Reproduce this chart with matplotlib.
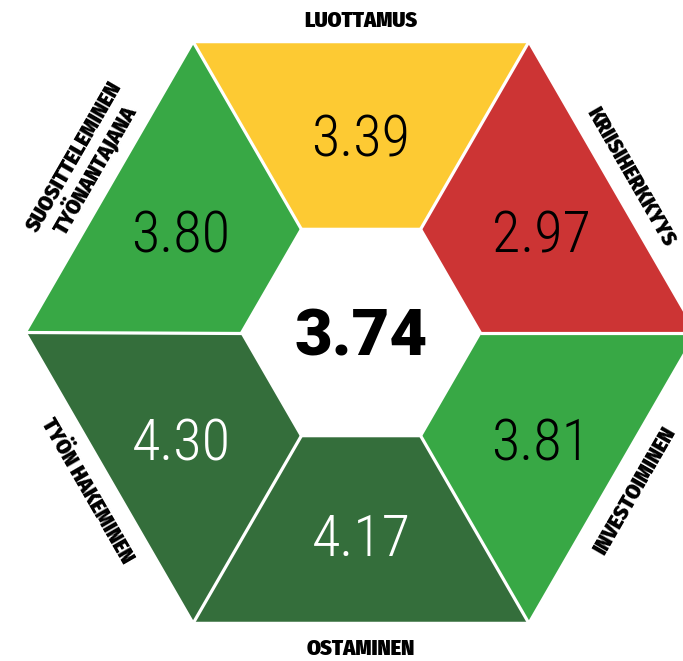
import numpy as np
import matplotlib
matplotlib.use('Agg')
import matplotlib.pyplot as plt
from matplotlib import font_manager
from matplotlib.patches import Polygon

labels = ['LUOTTAMUS', 'KRIISIHERKKYYS', 'INVESTOIMINEN', 'OSTAMINEN',
          'TYÖN HAKEMINEN', 'SUOSITTELEMINEN\nTYÖNANTAJANA']
values = [3.39, 2.97, 3.81, 4.17, 4.30, 3.80]
total = 3.74


def colour(v):
    if v < 3.0:
        return '#CC3434'
    if v < 3.5:
        return '#FDCA33'
    if v < 4.0:
        return '#38A845'
    return '#346E3B'


def has_font(name):
    return any(f.name == name for f in font_manager.fontManager.ttflist)


def pick(cands):
    for c in cands:
        if has_font(c):
            return c
    return 'DejaVu Sans'


num_font = pick(['Roboto Condensed', 'Liberation Sans Narrow', 'Roboto'])
lab_font = pick(['Fira Sans Condensed', 'Roboto Condensed', 'Roboto'])
big_font = pick(['Roboto', 'DejaVu Sans'])

# geometry in pixels
W, H = 683, 661
CX, CY = 361, 332.5
R_OUT, R_IN = 334, 121
mids = [90, 30, -30, -90, -150, 150]


def pt(r, a):
    a = np.radians(a)
    return CX + r * np.cos(a), CY - r * np.sin(a)


fig = plt.figure(figsize=(W / 100, H / 100), dpi=100)
ax = fig.add_axes([0, 0, 1, 1])
ax.set_xlim(0, W)
ax.set_ylim(H, 0)
ax.axis('off')

for lab, v, m in zip(labels, values, mids):
    a0, a1 = m - 30, m + 30
    poly = [pt(R_IN, a0), pt(R_OUT, a0), pt(R_OUT, a1), pt(R_IN, a1)]
    ax.add_patch(Polygon(poly, closed=True, facecolor=colour(v), edgecolor='none'))

    # value, a bit further out on the slanted pieces
    r = 200 + 9 * abs(np.cos(np.radians(m)))
    x, y = pt(r, m)
    tc = 'white' if v >= 4.0 else 'black'
    ax.text(x, y + 24, f'{v:.2f}', ha='center', va='baseline', fontsize=42,
            family=num_font, fontweight='light', color=tc)

    # category label along the outer edge
    rot = m - 90 if np.sin(np.radians(m)) > 0 else m + 90
    lines = lab.split('\n')
    n = len(lines)
    along = 8 if n > 1 else 0
    for i, line in enumerate(lines):
        off = 25 + (n - 1 - i) * 24
        lx, ly = pt(R_OUT * np.cos(np.radians(30)) + off, m)
        ra = np.radians(rot)
        lx += along * np.cos(ra)
        ly -= along * np.sin(ra)
        ax.text(lx, ly, line, ha='center', va='center_baseline', rotation=rot,
                rotation_mode='anchor', fontsize=16, family=lab_font,
                fontweight='black', color='black')

# white gaps between the pieces
for a in range(0, 360, 60):
    x0, y0 = pt(R_IN - 2, a)
    x1, y1 = pt(R_OUT + 4, a)
    ax.plot([x0, x1], [y0, y1], color='white', lw=2.3, solid_capstyle='butt')

ax.text(CX, CY + 23, f'{total:.2f}', ha='center', va='baseline', fontsize=47,
        family=big_font, fontweight='black', color='black')

fig.savefig('out.png', dpi=100)
